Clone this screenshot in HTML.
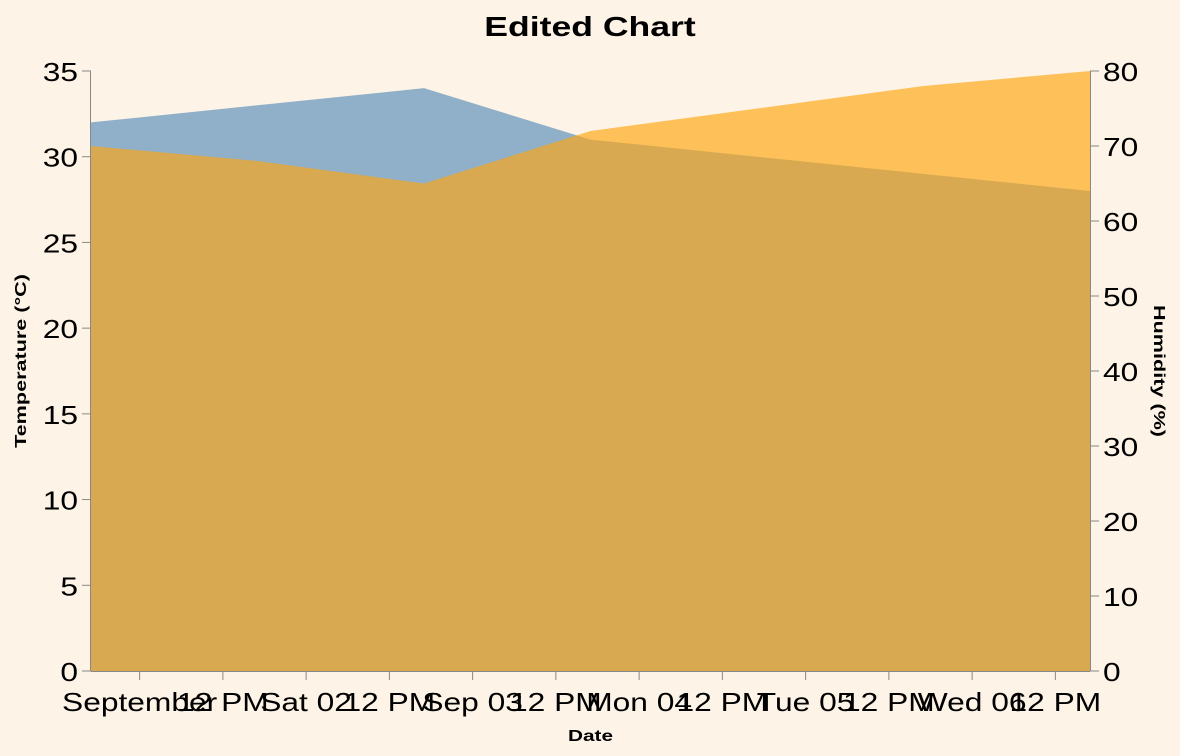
<!DOCTYPE html>
<html><head><meta charset="utf-8"><style>
body{margin:0;background:#fdf3e6;}
svg{display:block;font-family:"Liberation Sans",sans-serif;}
</style></head><body>
<svg id="c" width="1180" height="756">
<rect width="1180" height="756" fill="#fdf3e6"/>
<g id="plot"></g>
</svg>
<script>
const dayIndex=[0,1,2,3,4,5,6];
const temperature=[32,33,34,31,30,29,28];
const humidity=[70,68,65,72,75,78,80];
const xTickLabels=["September","12 PM","Sat 02","12 PM","Sep 03","12 PM","Mon 04","12 PM","Tue 05","12 PM","Wed 06","12 PM"];
const tempTicks=[0,5,10,15,20,25,30,35];
const humTicks=[0,10,20,30,40,50,60,70,80];
const tickOffsetDays=0.292;
const L=91,R=1090,T=71,B=671;
const x=d=>L+(d-dayIndex[0])/(dayIndex[dayIndex.length-1]-dayIndex[0])*(R-L);
const yT=v=>B-v/35*(B-T);
const yH=v=>B-v/80*(B-T);
const NS="http://www.w3.org/2000/svg";
const g=document.getElementById('plot');
function mk(t,a,txt){const e=document.createElementNS(NS,t);for(const k in a)e.setAttribute(k,a[k]);if(txt!==undefined)e.textContent=txt;g.appendChild(e);return e;}
function stretch(e,k){const w=e.getComputedTextLength();e.setAttribute('textLength',w*k);e.setAttribute('lengthAdjust','spacingAndGlyphs');}
function area(vals,ys){let d=`M${x(dayIndex[0])},${B}`;vals.forEach((v,i)=>d+=`L${x(dayIndex[i])},${ys(v)}`);d+=`L${x(dayIndex[dayIndex.length-1])},${B}Z`;return d;}
const a1=mk('path',{d:area(temperature,yT),fill:'#8fb0c8'});


const a2=mk('path',{d:area(humidity,yH),fill:'#ffa610','fill-opacity':0.65});


const ttl=mk('text',{x:590,y:36,'text-anchor':'middle','font-size':28,'font-weight':'bold'},'Edited Chart');


stretch(ttl,1.27);
const ax=mk('line',{x1:L,x2:R,y1:B+0.5,y2:B+0.5,stroke:'#888'});


xTickLabels.forEach((lab,i)=>{const px=x(tickOffsetDays+i*0.5);
const tk=mk('line',{x1:px,x2:px,y1:B,y2:B+9,stroke:'#888'});


const t=mk('text',{x:px,y:B+40,'text-anchor':'middle','font-size':26},lab);


stretch(t,1.22);});
const yl=mk('line',{x1:L-0.5,x2:L-0.5,y1:T,y2:B,stroke:'#888'});


tempTicks.forEach(v=>{const py=yT(v);
const tk=mk('line',{x1:L-9,x2:L,y1:py,y2:py,stroke:'#888'});


const t=mk('text',{x:L-13,y:py+10,'text-anchor':'end','font-size':26},v);


stretch(t,1.22);});
const yr=mk('line',{x1:R+0.5,x2:R+0.5,y1:T,y2:B,stroke:'#888'});


humTicks.forEach(v=>{const py=yH(v);
const tk=mk('line',{x1:R,x2:R+9,y1:py,y2:py,stroke:'#888'});


const t=mk('text',{x:R+13,y:py+10,'text-anchor':'start','font-size':26},v);


stretch(t,1.22);});
const xt=mk('text',{x:(L+R)/2,y:741,'text-anchor':'middle','font-size':16,'font-weight':'bold'},'Date');


stretch(xt,1.3);
const lt=mk('text',{x:0,y:0,'text-anchor':'middle','font-size':16,'font-weight':'bold',transform:`translate(26,${(T+B)/2-10}) rotate(-90)`},'Temperature (°C)');


stretch(lt,1.35);
const rt=mk('text',{x:0,y:0,'text-anchor':'middle','font-size':16,'font-weight':'bold',transform:`translate(1154,${(T+B)/2}) rotate(90)`},'Humidity (%)');


stretch(rt,1.35);
</script>
</body></html>
